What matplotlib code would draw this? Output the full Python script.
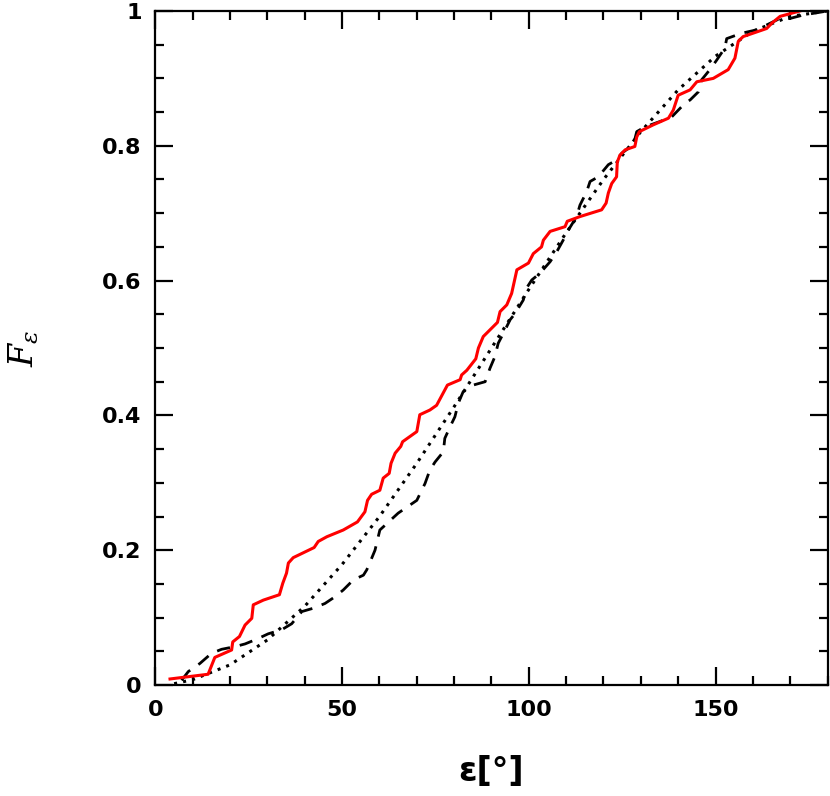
#!/usr/bin/env python3
# cumulative distribution of the angle epsilon, two samples vs. the isotropic curve

import matplotlib
matplotlib.use("Agg")
import matplotlib.pyplot as plt
from matplotlib.ticker import MultipleLocator, FuncFormatter

# red sample (solid)
red_x = [3.9, 14.1, 15.9, 20.4, 20.7, 22.5, 24.0, 25.8, 26.2, 28.9,
         33.2, 34.1, 35.1, 35.6, 36.9, 42.5, 43.6, 45.9, 50.3, 54.1,
         56.1, 56.8, 57.9, 60.1, 61.0, 62.6, 63.1, 64.2, 65.7, 66.2,
         70.0, 70.8, 73.5, 75.3, 78.2, 81.6, 82.0, 83.4, 85.8, 86.5,
         87.8, 91.6, 92.3, 94.1, 95.4, 96.0, 96.8, 99.9, 101.2, 103.4,
         103.9, 105.7, 109.7, 110.3, 113.7, 119.5, 120.7, 121.3, 122.2, 123.5,
         123.7, 124.4, 125.8, 128.4, 128.9, 129.6, 133.3, 137.4, 138.7, 140.0,
         143.2, 145.0, 149.4, 153.4, 155.2, 156.1, 157.4, 163.7, 165.1, 167.3,
         172.6]
red_y = [0.009, 0.016, 0.041, 0.052, 0.064, 0.072, 0.089, 0.099, 0.119, 0.126,
         0.134, 0.151, 0.166, 0.181, 0.189, 0.204, 0.213, 0.220, 0.230, 0.242,
         0.257, 0.274, 0.283, 0.289, 0.307, 0.314, 0.329, 0.344, 0.354, 0.361,
         0.376, 0.401, 0.408, 0.415, 0.445, 0.453, 0.460, 0.467, 0.484, 0.500,
         0.517, 0.538, 0.554, 0.564, 0.581, 0.596, 0.616, 0.626, 0.640, 0.650,
         0.660, 0.673, 0.680, 0.688, 0.695, 0.705, 0.715, 0.730, 0.744, 0.754,
         0.776, 0.786, 0.794, 0.799, 0.813, 0.821, 0.831, 0.841, 0.853, 0.875,
         0.883, 0.895, 0.900, 0.913, 0.930, 0.955, 0.962, 0.974, 0.982, 0.992,
         1.0]

# black sample (dashed)
dash_x = [7.0, 8.8, 11.9, 15.0, 17.7, 21.3, 24.0, 27.1, 30.2, 33.8,
          36.5, 39.2, 42.3, 45.4, 48.1, 50.3, 53.0, 55.7, 56.6, 57.9,
          58.8, 60.1, 65.0, 70.0, 72.2, 73.5, 74.9, 77.1, 77.5, 78.9,
          80.2, 81.1, 82.4, 85.1, 88.3, 89.6, 90.9, 91.8, 93.2, 95.0,
          96.3, 98.5, 99.4, 100.8, 103.0, 105.7, 107.5, 109.2, 110.6, 112.8,
          113.7, 115.5, 116.4, 118.6, 121.3, 123.5, 124.9, 126.6, 128.0, 128.9,
          131.1, 135.1, 138.3, 141.8, 143.2, 145.4, 146.3, 148.5, 150.3, 152.5,
          153.0, 157.0, 161.0, 167.3, 170.0, 173.5, 180.0]
dash_y = [0.007, 0.020, 0.032, 0.047, 0.053, 0.057, 0.061, 0.068, 0.076, 0.082,
          0.091, 0.109, 0.114, 0.121, 0.131, 0.141, 0.156, 0.163, 0.171, 0.188,
          0.200, 0.230, 0.255, 0.274, 0.299, 0.319, 0.331, 0.346, 0.366, 0.383,
          0.398, 0.418, 0.435, 0.445, 0.450, 0.470, 0.487, 0.507, 0.522, 0.542,
          0.551, 0.571, 0.589, 0.601, 0.611, 0.628, 0.643, 0.660, 0.675, 0.695,
          0.712, 0.732, 0.747, 0.754, 0.772, 0.779, 0.789, 0.796, 0.801, 0.821,
          0.828, 0.836, 0.843, 0.863, 0.868, 0.880, 0.898, 0.913, 0.927, 0.945,
          0.959, 0.967, 0.972, 0.989, 0.989, 0.994, 1.0]

# reference curve (dotted)
dot_x = [5, 10, 20, 30, 40, 50, 60, 70, 80, 90, 100, 110, 120, 130, 140, 150, 160, 170, 180]
dot_y = [0.002, 0.008, 0.030, 0.067, 0.117, 0.179, 0.250, 0.329, 0.413, 0.500,
         0.587, 0.671, 0.750, 0.821, 0.883, 0.933, 0.970, 0.992, 1.0]

plt.rcParams['font.family'] = ['DejaVu Sans']
plt.rcParams['mathtext.fontset'] = 'dejavuserif'

fig = plt.figure(figsize=(8.30, 7.96), dpi=100)
ax = fig.add_axes([0.1873, 0.1394, 0.8097, 0.8468])

ax.plot(dot_x, dot_y, color='black', lw=2.2, dashes=(1, 2))
ax.plot(dash_x, dash_y, color='black', lw=2.0, dashes=(4.8, 3.6))
ax.plot(red_x, red_y, color='red', lw=2.2)

ax.set_xlim(0, 180)
ax.set_ylim(0, 1)

ax.xaxis.set_major_locator(MultipleLocator(50))
ax.xaxis.set_minor_locator(MultipleLocator(10))
ax.yaxis.set_major_locator(MultipleLocator(0.2))
ax.yaxis.set_minor_locator(MultipleLocator(0.05))
ax.yaxis.set_major_formatter(FuncFormatter(lambda v, p: '%g' % round(v, 2)))

ax.tick_params(which='both', direction='in', top=True, right=True, width=1.6)
ax.tick_params(which='major', length=13, labelsize=16)
ax.tick_params(axis='x', which='major', pad=11)
ax.tick_params(axis='y', which='major', pad=10)
ax.tick_params(which='minor', length=6.5)
for lab in ax.get_xticklabels() + ax.get_yticklabels():
    lab.set_fontweight('bold')
for s in ax.spines.values():
    s.set_linewidth(1.6)

ax.set_xlabel('ε[°]', fontsize=24, fontweight='bold', labelpad=25)
ax.set_ylabel(r'$F_{\varepsilon}$', fontsize=24, labelpad=44)

fig.savefig('out.png', dpi=100)
